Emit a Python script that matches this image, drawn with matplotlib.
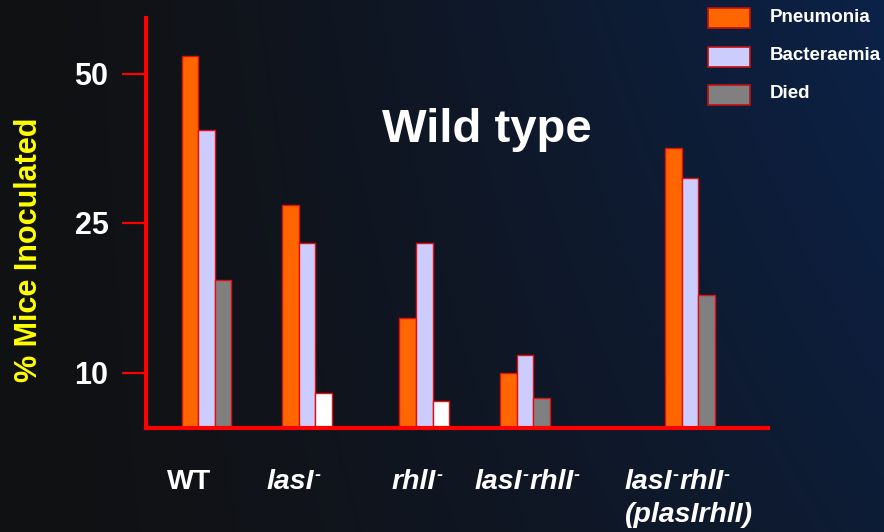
import re
import numpy as np
import matplotlib.pyplot as plt
from matplotlib.patches import Rectangle
from matplotlib.transforms import blended_transform_factory

# infection outcome per strain (% of inoculated mice)
groups = ['WT', 'lasI⁻', 'rhlI⁻', 'lasI⁻rhlI⁻', 'lasI⁻rhlI⁻\n(plasIrhlI)']
pneumonia = [53, 28, 15.5, 10, 37.5]
bacteraemia = [40.5, 23, 23, 11.8, 32.5]
died = [19.3, 6.4, 4.9, 5.5, 17.8]
died_colors = ['#808080', '#ffffff', '#ffffff', '#808080', '#808080']
y_ticks = [10, 25, 50]
series_names = ['Pneumonia', 'Bacteraemia', 'Died']
series_colors = ['#ff6600', '#ccccff', '#808080']

# uneven group spacing and left edges of the strain labels (axis units)
group_x = [0.604, 1.61, 2.783, 3.79, 5.44]
label_left = [0.21, 1.207, 2.457, 3.29, 4.79]
label_style = ['normal', 'italic', 'italic', 'italic', 'italic']
bar_w = 0.166

# the value axis is stretched piecewise between the labelled ticks
scale_vals = [0, 10, 25, 50, 60]
scale_pos = [0, 55, 205, 354.5, 414.3]


def fwd(v):
    return np.interp(v, scale_vals, scale_pos)


def inv(p):
    return np.interp(p, scale_pos, scale_vals)


FONT = ['Liberation Sans', 'DejaVu Sans']
W, H = 884, 532
fig = plt.figure(figsize=(W / 100, H / 100), dpi=100)


def fx(px):
    return px / W


def fy(py):
    return 1 - py / H


# dark-to-navy backdrop
bg = fig.add_axes([0, 0, 1, 1], zorder=-10)
xx, yy = np.meshgrid(np.linspace(0, 1, 300), np.linspace(1, 0, 200))
w = np.clip(xx ** 1.3 * (0.65 + 0.35 * yy), 0, 1)[..., None]
dark = np.array([17, 17, 18]) / 255
navy = np.array([12, 34, 72]) / 255
bg.imshow(dark * (1 - w) + navy * w, aspect='auto', extent=[0, 1, 0, 1])
bg.axis('off')

ax = fig.add_axes([fx(146), fy(428), fx(768) - fx(146), fy(18) - fy(428)])
ax.set_facecolor('none')
ax.set_yscale('function', functions=(fwd, inv))

x = np.array(group_x)
edge = '#e01010'
ax.bar(x - bar_w, pneumonia, bar_w, color=series_colors[0], edgecolor=edge, linewidth=1)
ax.bar(x, bacteraemia, bar_w, color=series_colors[1], edgecolor=edge, linewidth=1)
ax.bar(x + bar_w, died, bar_w, color=died_colors, edgecolor=edge, linewidth=1)

ax.set_xlim(0, 6.22)
ax.set_ylim(0, inv(410))

for side in ['top', 'right']:
    ax.spines[side].set_visible(False)
for side in ['left', 'bottom']:
    ax.spines[side].set_color('#ff0000')
    ax.spines[side].set_linewidth(3)

ax.set_xticks([])
ax.set_yticks(y_ticks)
ax.set_yticklabels([str(t) for t in y_ticks])
ax.tick_params(axis='y', colors='#ff0000', length=17, width=1.6, pad=10,
               labelcolor='white', labelsize=22)
for lbl in ax.get_yticklabels():
    lbl.set_fontweight('bold')
    lbl.set_family(FONT)

trans = blended_transform_factory(ax.transData, ax.transAxes)
lab_kw = dict(color='white', fontweight='bold', family=FONT)
DASH_UP = 8


def strain_label(x0, y0, s, style):
    # gene names carry a small raised minus after them
    prev, raised = None, False
    for part in re.split('(⁻)', s):
        if not part:
            continue
        if prev is None:
            prev = ax.text(x0, y0, part, transform=trans, ha='left',
                           va='baseline', fontsize=20.5, style=style,
                           clip_on=False, **lab_kw)
        elif part == '⁻':
            prev = ax.annotate('-', xy=(1, 0), xycoords=prev,
                               xytext=(0.3, DASH_UP), textcoords='offset points',
                               va='bottom', ha='left', fontsize=13,
                               style=style, **lab_kw)
            raised = True
        else:
            dy = -DASH_UP if raised else 0
            prev = ax.annotate(part, xy=(1, 0), xycoords=prev,
                               xytext=(0.3, dy), textcoords='offset points',
                               va='bottom', ha='left', fontsize=20.5,
                               style=style, **lab_kw)
            raised = False


line_y = [-0.149, -0.229]
for xl, name, st in zip(label_left, groups, label_style):
    for k, line in enumerate(name.split('\n')):
        strain_label(xl, line_y[k], line, st)

fig.text(fx(29.5), fy(250), '% Mice Inoculated', rotation=90, color='#ffff00',
         fontsize=22, fontweight='bold', ha='center', va='center', family=FONT)

fig.text(fx(486.7), fy(141.7), 'Wild type', color='white', fontsize=34,
         fontweight='bold', ha='center', va='baseline', family=FONT)

# legend boxes in the upper right corner
for i, (name, col) in enumerate(zip(series_names, series_colors)):
    top = 8.3 + i * 38.3
    fig.add_artist(Rectangle((fx(707.5), fy(top + 20)), fx(42), 20 / H,
                             transform=fig.transFigure, facecolor=col,
                             edgecolor='#c01010', linewidth=1.2))
    fig.text(fx(770), fy(top + 9), name, color='white', fontsize=13.5,
             fontweight='bold', ha='left', va='center', family=FONT)

fig.savefig('out.png', dpi=100)
